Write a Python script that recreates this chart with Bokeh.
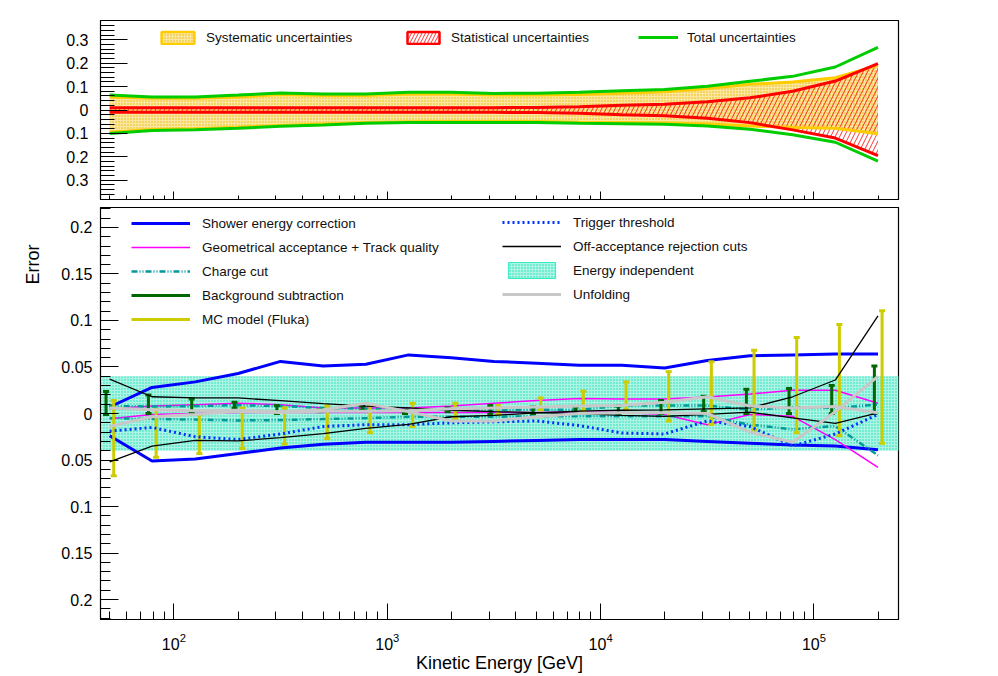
import numpy as np
from bokeh.plotting import figure
from bokeh.models import (Range1d, FixedTicker, CustomJSTickFormatter, Legend, LegendItem,
                          BoxAnnotation, Title)
from bokeh.layouts import column
from bokeh.embed import file_html
from bokeh.resources import INLINE

FONT = "Liberation Sans"

# ---------------- data ----------------
energy = [50, 79, 126, 200, 316, 501, 794, 1259, 1995, 3162, 5012, 7943,
          12589, 19953, 31623, 50119, 79433, 125893, 199526]

# top panel: relative uncertainties
total_up = [0.064, 0.056, 0.056, 0.064, 0.073, 0.068, 0.068, 0.076, 0.076, 0.071,
            0.072, 0.076, 0.082, 0.088, 0.102, 0.123, 0.144, 0.184, 0.268]
total_lo = [-0.101, -0.088, -0.085, -0.078, -0.070, -0.064, -0.057, -0.054, -0.053, -0.053,
            -0.054, -0.057, -0.059, -0.061, -0.068, -0.082, -0.106, -0.138, -0.219]
sys_up = [0.056, 0.050, 0.050, 0.056, 0.066, 0.062, 0.062, 0.068, 0.068, 0.064,
          0.064, 0.066, 0.072, 0.078, 0.092, 0.110, 0.120, 0.138, 0.191]
sys_lo = [-0.095, -0.083, -0.080, -0.074, -0.066, -0.060, -0.053, -0.050, -0.049, -0.049,
          -0.049, -0.052, -0.054, -0.056, -0.060, -0.068, -0.075, -0.078, -0.102]
stat_up = [0.010, 0.010, 0.010, 0.010, 0.010, 0.010, 0.010, 0.010, 0.010, 0.010,
           0.011, 0.014, 0.020, 0.025, 0.035, 0.052, 0.080, 0.124, 0.198]
stat_lo = [-0.010, -0.010, -0.010, -0.010, -0.010, -0.010, -0.010, -0.010, -0.010, -0.010,
           -0.011, -0.014, -0.020, -0.025, -0.035, -0.054, -0.085, -0.120, -0.195]

# bottom panel: individual contributions
shower_up = [0.007, 0.028, 0.034, 0.043, 0.056, 0.051, 0.053, 0.063, 0.060, 0.056,
             0.054, 0.052, 0.052, 0.049, 0.057, 0.062, 0.063, 0.064, 0.064]
shower_lo = [-0.024, -0.051, -0.049, -0.043, -0.037, -0.033, -0.031, -0.031, -0.031, -0.030,
             -0.029, -0.028, -0.028, -0.028, -0.030, -0.032, -0.034, -0.035, -0.039]
geo_up = [0.005, 0.008, 0.0095, 0.011, 0.0095, 0.006, 0.006, 0.006, 0.008, 0.011,
          0.014, 0.016, 0.0156, 0.0156, 0.0177, 0.021, 0.025, 0.025, 0.011]
geo_lo = [-0.0057, -0.001, 0.0, 0.001, 0.001, 0.001, 0.001, 0.001, 0.001, 0.001,
          0.001, 0.002, 0.001, -0.001, -0.012, -0.001, -0.003, -0.028, -0.058]
charge_up = [0.008, 0.0075, 0.008, 0.009, 0.008, 0.006, 0.005, 0.004, 0.004, 0.004,
             0.004, 0.004, 0.0085, 0.0085, 0.0085, 0.004, 0.007, 0.006, 0.0096]
charge_lo = [-0.005, -0.006, -0.0065, -0.0075, -0.007, -0.006, -0.005, -0.0035, -0.0035, -0.0035,
             -0.003, -0.003, -0.003, -0.003, -0.003, -0.012, -0.017, -0.0135, -0.045]
trigger = [-0.019, -0.015, -0.025, -0.028, -0.022, -0.014, -0.012, -0.012, -0.010, -0.009,
           -0.008, -0.013, -0.021, -0.022, -0.008, -0.014, -0.035, -0.022, -0.001]
offacc_a = [0.037, 0.018, 0.0167, 0.0167, 0.0138, 0.0106, 0.008, 0.006, 0.0035, 0.002,
            0.001, 0.0, -0.002, -0.003, -0.001, 0.0014, -0.0046, -0.0106, 0.0007]
offacc_b = [-0.052, -0.035, -0.029, -0.0295, -0.026, -0.0216, -0.016, -0.0117, -0.0035, -0.002,
            0.0007, 0.0025, 0.0035, 0.004, 0.005, 0.006, 0.018, 0.036, 0.105]
unfold_a = [0.006, 0.004, 0.003, 0.0035, 0.002, 0.004, 0.011, 0.002, -0.008, -0.008,
            -0.0035, 0.0, 0.0007, 0.0007, 0.0, -0.020, -0.031, 0.002, 0.040]
unfold_b = [-0.014, -0.0035, -0.001, 0.0025, 0.001, 0.0025, 0.0025, 0.003, 0.005, 0.006,
            0.007, 0.008, 0.0085, 0.012, 0.018, 0.008, 0.006, 0.0075, 0.0007]
mc_hi = [0.014, 0.004, -0.001, 0.006, 0.006, 0.008, 0.0096, 0.011, 0.011, 0.0085,
         0.0167, 0.024, 0.034, 0.045, 0.0556, 0.068, 0.0816, 0.0957, 0.1106]
mc_lo = [-0.067, -0.047, -0.043, -0.0376, -0.033, -0.027, -0.0206, -0.014, -0.0064, -0.001,
         0.004, 0.0025, 0.004, -0.008, -0.0117, -0.0177, -0.0206, -0.024, -0.032]
bkg_hi = [0.0237, 0.020, 0.0156, 0.012, 0.0085, 0.004, 0.008, 0.0035, 0.006, 0.0085,
          0.007, 0.007, 0.008, 0.014, 0.0185, 0.026, 0.027, 0.030, 0.051]
bkg_lo = [-0.001, 0.0, 0.0, 0.006, 0.0, 0.002, 0.0035, 0.0, 0.002, -0.001,
          0.0, 0.0, 0.0, 0.0, 0.002, 0.0, 0.0, 0.0, 0.0]
energy_indep = 0.04

top_yticks = [-0.3, -0.2, -0.1, 0.0, 0.1, 0.2, 0.3]
bot_yticks = [-0.2, -0.15, -0.1, -0.05, 0.0, 0.05, 0.1, 0.15, 0.2]
x_major = [1e2, 1e3, 1e4, 1e5]

# ---------------- styling helpers ----------------
X_LO, X_HI = 45.3, 249000
xr = Range1d(X_LO, X_HI)
x_minor = [m * 10 ** e for e in range(1, 6) for m in range(2, 10) if X_LO < m * 10 ** e < X_HI]
abs_fmt = CustomJSTickFormatter(code="return String(parseFloat(Math.abs(tick).toFixed(3)));")

SYS_C = "#ffcc00"
SYS_FILL = "#fbe6a2"
SYS_DOT = "#e8b800"
STAT_C = "#ff0000"
TOT_C = "#00cc00"


def style(p, ymaj, ymin, ytick_len, xtick_len):
    p.grid.visible = False
    p.outline_line_color = "black"
    p.outline_line_width = 1.2
    p.background_fill_color = "white"
    p.border_fill_color = "white"
    for ax in (p.xaxis[0], p.yaxis[0]):
        ax.axis_line_color = "black"
        ax.major_tick_line_color = "black"
        ax.minor_tick_line_color = "black"
        ax.major_tick_out = 0
        ax.minor_tick_out = 0
        ax.major_label_text_font = FONT
        ax.major_label_text_font_size = "16px"
        ax.major_label_text_color = "black"
        ax.axis_label_text_font = FONT
        ax.axis_label_text_font_style = "normal"
        ax.axis_label_text_font_size = "18px"
        ax.axis_label_text_color = "black"
    p.yaxis[0].ticker = FixedTicker(ticks=ymaj, minor_ticks=ymin)
    p.yaxis[0].formatter = abs_fmt
    p.yaxis[0].major_tick_in = ytick_len[0]
    p.yaxis[0].minor_tick_in = ytick_len[1]
    p.xaxis[0].ticker = FixedTicker(ticks=x_major, minor_ticks=x_minor)
    p.xaxis[0].major_tick_in = xtick_len[0]
    p.xaxis[0].minor_tick_in = xtick_len[1]


# ---------------- top panel ----------------
top = figure(x_axis_type="log", x_range=xr, y_range=Range1d(-0.383, 0.383),
             frame_width=798, frame_height=179, min_border_left=100, min_border_right=10,
             min_border_top=20, min_border_bottom=8, output_backend="svg",
             toolbar_location=None)
style(top, top_yticks, [round(-0.36 + 0.02 * i, 2) for i in range(37)], (27, 14), (8, 4))
top.yaxis[0].major_label_standoff = 12
top.xaxis[0].formatter = CustomJSTickFormatter(code="return '';")
top.xaxis[0].major_label_text_font_size = "1px"
top.xaxis[0].major_label_standoff = 0

top.varea(x=energy, y1=sys_lo, y2=sys_up, fill_color=SYS_FILL, fill_alpha=1.0,
          hatch_pattern="dot", hatch_color=SYS_DOT, hatch_scale=3, hatch_weight=1)
top.varea(x=energy, y1=stat_lo, y2=stat_up, fill_alpha=0.0,
          hatch_pattern="right_diagonal_line", hatch_color=STAT_C, hatch_scale=9, hatch_weight=0.8)
top.line(energy, sys_up, line_color=SYS_C, line_width=3)
top.line(energy, sys_lo, line_color=SYS_C, line_width=3)
top.line(energy, stat_up, line_color=STAT_C, line_width=3)
top.line(energy, stat_lo, line_color=STAT_C, line_width=3)
r_tot = top.line(energy, total_up, line_color=TOT_C, line_width=3)
top.line(energy, total_lo, line_color=TOT_C, line_width=3)

# zero-area proxies that only serve as legend swatches
px = [energy[0]]
py = [0.0]
leg_sys = top.quad(left=px, right=px, top=py, bottom=py, fill_color=SYS_FILL,
                   hatch_pattern="dot", hatch_color=SYS_DOT, hatch_scale=3, hatch_weight=1,
                   line_color=SYS_C, line_width=2.5)
leg_stat = top.quad(left=px, right=px, top=py, bottom=py, fill_color="white",
                    hatch_pattern="right_diagonal_line", hatch_color=STAT_C, hatch_scale=7,
                    hatch_weight=0.8, line_color=STAT_C, line_width=2.5)


def legend(items, vx, vy, gw, gh, standoff, spacing=0, lh=20):
    return Legend(items=items, location=(vx, vy), orientation="vertical",
                  glyph_width=gw, glyph_height=gh, label_standoff=standoff, spacing=spacing,
                  padding=0, margin=0, border_line_alpha=0, background_fill_alpha=0,
                  label_text_font=FONT, label_text_font_size="13.5px",
                  label_text_color="#111111", label_height=lh)


top.add_layout(legend([LegendItem(label="Systematic uncertainties", renderers=[leg_sys])],
                      57, 154, 41, 15, 8, lh=16))
top.add_layout(legend([LegendItem(label="Statistical uncertainties", renderers=[leg_stat])],
                      303, 154, 40, 15, 8, lh=16))
top.add_layout(legend([LegendItem(label="Total uncertainties", renderers=[r_tot])],
                      538, 154, 40, 16, 9, lh=16))

# ---------------- bottom panel ----------------
bot = figure(x_axis_type="log", x_range=xr, y_range=Range1d(-0.2215, 0.2215),
             frame_width=798, frame_height=412, min_border_left=100, min_border_right=10,
             min_border_top=0, min_border_bottom=10, output_backend="svg",
             toolbar_location=None)
style(bot, bot_yticks, [round(-0.22 + 0.01 * i, 2) for i in range(45)], (18, 10), (16, 8))
bot.yaxis[0].major_label_standoff = 8
bot.xaxis[0].major_label_standoff = 13
bot.xaxis[0].axis_label = "Kinetic Energy [GeV]"
bot.xaxis[0].axis_label_standoff = 0

CYAN = "#14e0b4"
CYAN_FILL = "#aef3e3"
bot.add_layout(BoxAnnotation(bottom=-energy_indep, top=energy_indep, fill_color=CYAN_FILL,
                             fill_alpha=1.0, hatch_pattern="dot", hatch_color=CYAN,
                             hatch_scale=3, hatch_weight=1, line_alpha=0, level="underlay"))

SHOWER_C = "#0000ff"
GEO_C = "#ff00ff"
CHARGE_C = "#009a9a"
BKG_C = "#006600"
MC_C = "#cccc00"
TRIG_C = "#0033ff"
UNF_C = "#c8c8c8"

r_shower = bot.line(energy, shower_up, line_color=SHOWER_C, line_width=3)
bot.line(energy, shower_lo, line_color=SHOWER_C, line_width=3)
r_geo = bot.line(energy, geo_up, line_color=GEO_C, line_width=1.5)
bot.line(energy, geo_lo, line_color=GEO_C, line_width=1.5)
r_charge = bot.line(energy, charge_up, line_color=CHARGE_C, line_width=2.5, line_dash="6 2 1 2 1 2")
bot.line(energy, charge_lo, line_color=CHARGE_C, line_width=2.5, line_dash="6 2 1 2 1 2")

bkg_x = [e * 0.962 for e in energy]
mc_x = [e * 1.045 for e in energy]
r_bkg = bot.segment(x0=bkg_x, y0=bkg_lo, x1=bkg_x, y1=bkg_hi, line_color=BKG_C, line_width=3)
bot.scatter(bkg_x + bkg_x, bkg_lo + bkg_hi, marker="dash", size=6, line_color=BKG_C, line_width=3)
r_mc = bot.segment(x0=mc_x, y0=mc_lo, x1=mc_x, y1=mc_hi, line_color=MC_C, line_width=3)
bot.scatter(mc_x + mc_x, mc_lo + mc_hi, marker="dash", size=6, line_color=MC_C, line_width=3)

r_trig = bot.line(energy, trigger, line_color=TRIG_C, line_width=3, line_dash="2 3")
r_off = bot.line(energy, offacc_a, line_color="black", line_width=1.3)
bot.line(energy, offacc_b, line_color="black", line_width=1.3)
r_unf = bot.line(energy, unfold_a, line_color=UNF_C, line_width=3)
bot.line(energy, unfold_b, line_color=UNF_C, line_width=3)

r_eind = bot.quad(left=px, right=px, top=py, bottom=py, fill_color=CYAN_FILL,
                  hatch_pattern="dot", hatch_color=CYAN, hatch_scale=3, hatch_weight=1,
                  line_color="#33eec4", line_width=1)

left_items = [LegendItem(label="Shower energy correction", renderers=[r_shower]),
              LegendItem(label="Geometrical acceptance + Track quality", renderers=[r_geo]),
              LegendItem(label="Charge cut", renderers=[r_charge]),
              LegendItem(label="Background subtraction", renderers=[r_bkg]),
              LegendItem(label="MC model (Fluka)", renderers=[r_mc])]
right_items = [LegendItem(label="Trigger threshold", renderers=[r_trig]),
               LegendItem(label="Off-acceptance rejection cuts", renderers=[r_off]),
               LegendItem(label="Energy independent", renderers=[r_eind]),
               LegendItem(label="Unfolding", renderers=[r_unf])]
bot.add_layout(legend(left_items, 31, 290, 59, 20, 12, spacing=4))
bot.add_layout(legend(right_items, 402, 315, 59, 20, 12, spacing=4))

bot.add_layout(Title(text="Error", align="right", offset=37, standoff=32,
                     text_font=FONT, text_font_size="18px", text_font_style="normal",
                     text_color="black"), "left")

page = column(top, bot, spacing=0)
open("out.html", "w").write(file_html(page, INLINE))
